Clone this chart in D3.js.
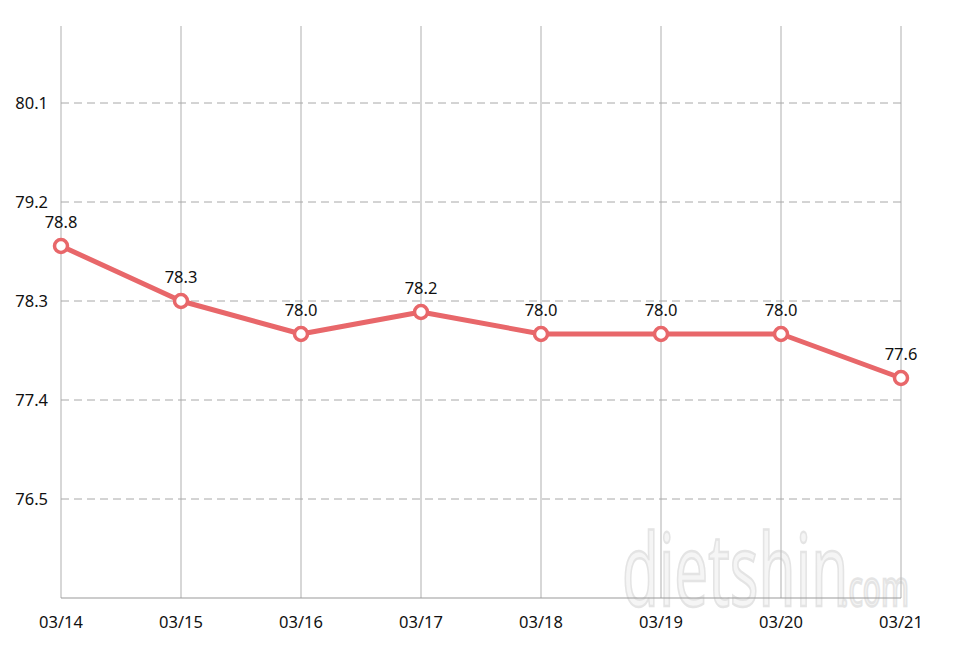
<!DOCTYPE html>
<html><head><meta charset="utf-8">
<script src="https://cdn.jsdelivr.net/npm/d3@7"></script>
<style>body{margin:0;background:#fff}svg{display:block}text{font-family:"Noto Sans","DejaVu Sans",sans-serif}</style>
</head><body>
<svg id="c" width="960" height="669"></svg>
<script>
const dates = ["03/14","03/15","03/16","03/17","03/18","03/19","03/20","03/21"];
const weights = [78.8, 78.3, 78.0, 78.2, 78.0, 78.0, 78.0, 77.6];
const yTicks = [76.5, 77.4, 78.3, 79.2, 80.1];

const svg = d3.select("#c");
const x = d3.scalePoint().domain(dates).range([61, 901]);
const y = d3.scaleLinear().domain([75.6, 80.8]).range([598, 26]);

// watermark
const wmFont = "Liberation Sans Narrow, DejaVu Sans Condensed, sans-serif";
const wm = svg.append("g").attr("transform","translate(622,606) scale(0.6,1)");
wm.append("text").text("dietshin").attr("x",0).attr("y",0)
  .attr("font-size",100).attr("font-family",wmFont)
  .attr("fill","#f5f5f5").attr("stroke","#e4e4e4").attr("stroke-width",2.5);
wm.append("text").text(".com").attr("x",364).attr("y",0)
  .attr("font-size",50).attr("font-family",wmFont)
  .attr("fill","#f5f5f5").attr("stroke","#e4e4e4").attr("stroke-width",2.5);

// vertical grid
svg.append("g").selectAll("line").data(dates).join("line")
  .attr("x1",d=>x(d)).attr("x2",d=>x(d)).attr("y1",y(80.8)).attr("y2",y(75.6))
  .attr("stroke","#bdbdbd").attr("stroke-width",1.2);

// horizontal dashed grid
svg.append("g").selectAll("line").data(yTicks).join("line")
  .attr("x1",61).attr("x2",901).attr("y1",d=>y(d)).attr("y2",d=>y(d))
  .attr("stroke","#a8a8a8").attr("stroke-width",1).attr("stroke-dasharray","8,5");

// bottom axis line
svg.append("line").attr("x1",61).attr("x2",901).attr("y1",y(75.6)).attr("y2",y(75.6))
  .attr("stroke","#9a9a9a").attr("stroke-width",1.2);

// y labels
svg.append("g").selectAll("text").data(yTicks).join("text")
  .attr("x",48).attr("y",d=>y(d)).attr("dy","0.35em").attr("text-anchor","end")
  .attr("font-size",16.5).attr("fill","#111").text(d=>d.toFixed(1));

// x labels
svg.append("g").selectAll("text").data(dates).join("text")
  .attr("x",d=>x(d)).attr("y",628).attr("text-anchor","middle")
  .attr("font-size",16.5).attr("fill","#111").text(d=>d);

// line
const data = dates.map((d,i)=>({d, v:weights[i]}));
svg.append("path").datum(data)
  .attr("d", d3.line().x(p=>x(p.d)).y(p=>y(p.v)))
  .attr("fill","none").attr("stroke","#e8676a").attr("stroke-width",5).attr("stroke-linejoin","round");

svg.append("g").selectAll("circle").data(data).join("circle")
  .attr("cx",p=>x(p.d)).attr("cy",p=>y(p.v)).attr("r",6.5)
  .attr("fill","#fff").attr("stroke","#e8676a").attr("stroke-width",3.5);

svg.append("g").selectAll("text").data(data).join("text")
  .attr("x",p=>x(p.d)).attr("y",p=>y(p.v)-18).attr("text-anchor","middle")
  .attr("font-size",16.5).attr("fill","#111").text(p=>p.v.toFixed(1));
</script>
</body></html>
